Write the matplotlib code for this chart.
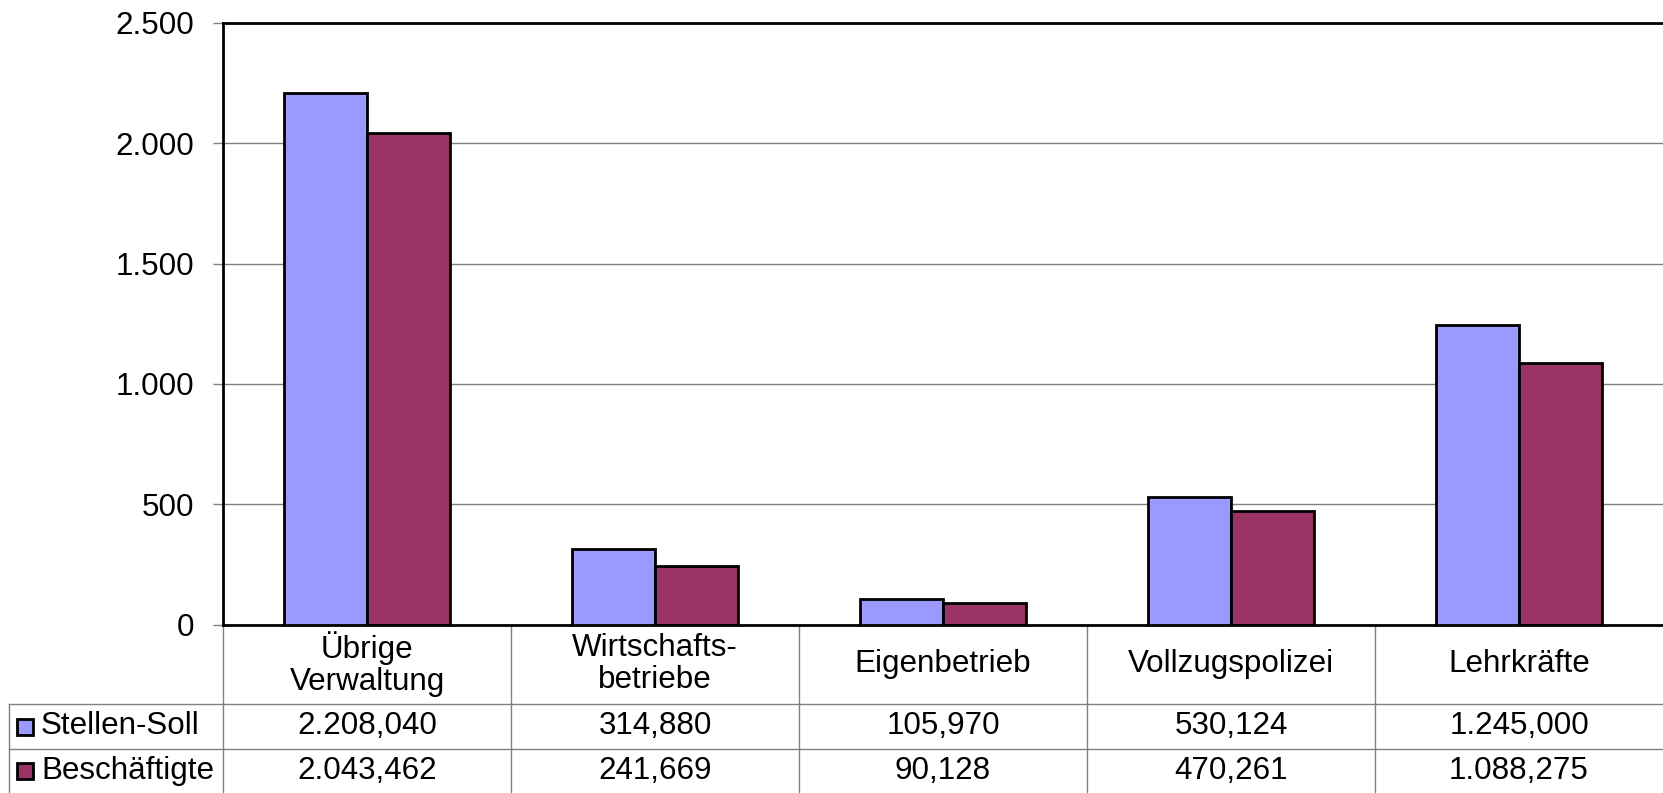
import matplotlib
matplotlib.use('Agg')
import matplotlib.pyplot as plt
from matplotlib.patches import Rectangle
from matplotlib.transforms import blended_transform_factory
from matplotlib.ticker import FuncFormatter

# Data
categories = ["Übrige\nVerwaltung", "Wirtschafts-\nbetriebe", "Eigenbetrieb", "Vollzugspolizei", "Lehrkräfte"]
series_names = ["Stellen-Soll", "Beschäftigte"]
stellen_soll = [2208.040, 314.880, 105.970, 530.124, 1245.000]
beschaeftigte = [2043.462, 241.669, 90.128, 470.261, 1088.275]
y_ticks = [0, 500, 1000, 1500, 2000, 2500]

colors = ["#9999FF", "#993366"]
plt.rcParams['font.family'] = ['Liberation Sans', 'DejaVu Sans']
FS = 22.6


def de_number(v, decimals=3):
    s = f"{v:,.{decimals}f}"
    return s.replace(",", "X").replace(".", ",").replace("X", ".")


W, H = 1663, 793
fig = plt.figure(figsize=(W / 100, H / 100), dpi=100)
left, right, top, zero = 223, 1663, 23, 624.6
ax = fig.add_axes([left / W, (H - zero) / H, (right - left) / W, (zero - top) / H])

x = list(range(len(categories)))
bw = 0.288
ax.bar([i - bw / 2 for i in x], stellen_soll, bw, color=colors[0], edgecolor='black', linewidth=2, zorder=3)
ax.bar([i + bw / 2 for i in x], beschaeftigte, bw, color=colors[1], edgecolor='black', linewidth=2, zorder=3)

ax.set_xlim(-0.5, len(categories) - 0.5)
ax.set_ylim(0, 2500)
ax.set_yticks(y_ticks)
ax.yaxis.set_major_formatter(FuncFormatter(lambda v, p: de_number(v, 0)))
ax.yaxis.grid(True, color='#808080', linewidth=1)
ax.set_axisbelow(True)
ax.set_xticks([])
ax.tick_params(axis='y', direction='out', length=7.2, width=1, color='#808080', labelsize=FS, pad=13.5)
for side in ['top', 'left', 'bottom']:
    ax.spines[side].set_linewidth(2)
    ax.spines[side].set_color('black')
ax.spines['right'].set_visible(False)

# Data table below the plot
axh = zero - top
def ay(px):
    return (zero - px) / axh

def axx(px):
    return (px - left) / (right - left)

tr = blended_transform_factory(ax.transData, ax.transAxes)
rows = [ay(zero), ay(704), ay(749), ay(793)]
line_kw = dict(color='#808080', linewidth=1, clip_on=False)

for i in x:
    ax.plot([i - 0.5, i - 0.5], [rows[0], rows[3]], transform=tr, **line_kw)
for r in rows[1:3]:
    ax.plot([axx(8.5), 1], [r, r], transform=ax.transAxes, **line_kw)
ax.plot([axx(8.5), axx(8.5)], [rows[1], rows[3]], transform=ax.transAxes, **line_kw)

for i, cat in enumerate(categories):
    ax.text(i, (rows[0] + rows[1]) / 2, cat, transform=tr, ha='center', va='center',
            fontsize=FS, linespacing=1.1)

for k, (name, vals) in enumerate(zip(series_names, [stellen_soll, beschaeftigte])):
    yc = (rows[k + 1] + rows[k + 2]) / 2
    for i, v in enumerate(vals):
        ax.text(i, yc, de_number(v), transform=tr, ha='center', va='center', fontsize=FS)
    sq = 16
    ax.add_patch(Rectangle((axx(17), yc - sq / 2 / axh), sq / (right - left), sq / axh,
                           transform=ax.transAxes, facecolor=colors[k], edgecolor='black',
                           linewidth=2, clip_on=False))
    ax.text(axx(41), yc, name, transform=ax.transAxes, ha='left', va='center', fontsize=FS)

plt.savefig('out.png', dpi=100)
plt.close()
